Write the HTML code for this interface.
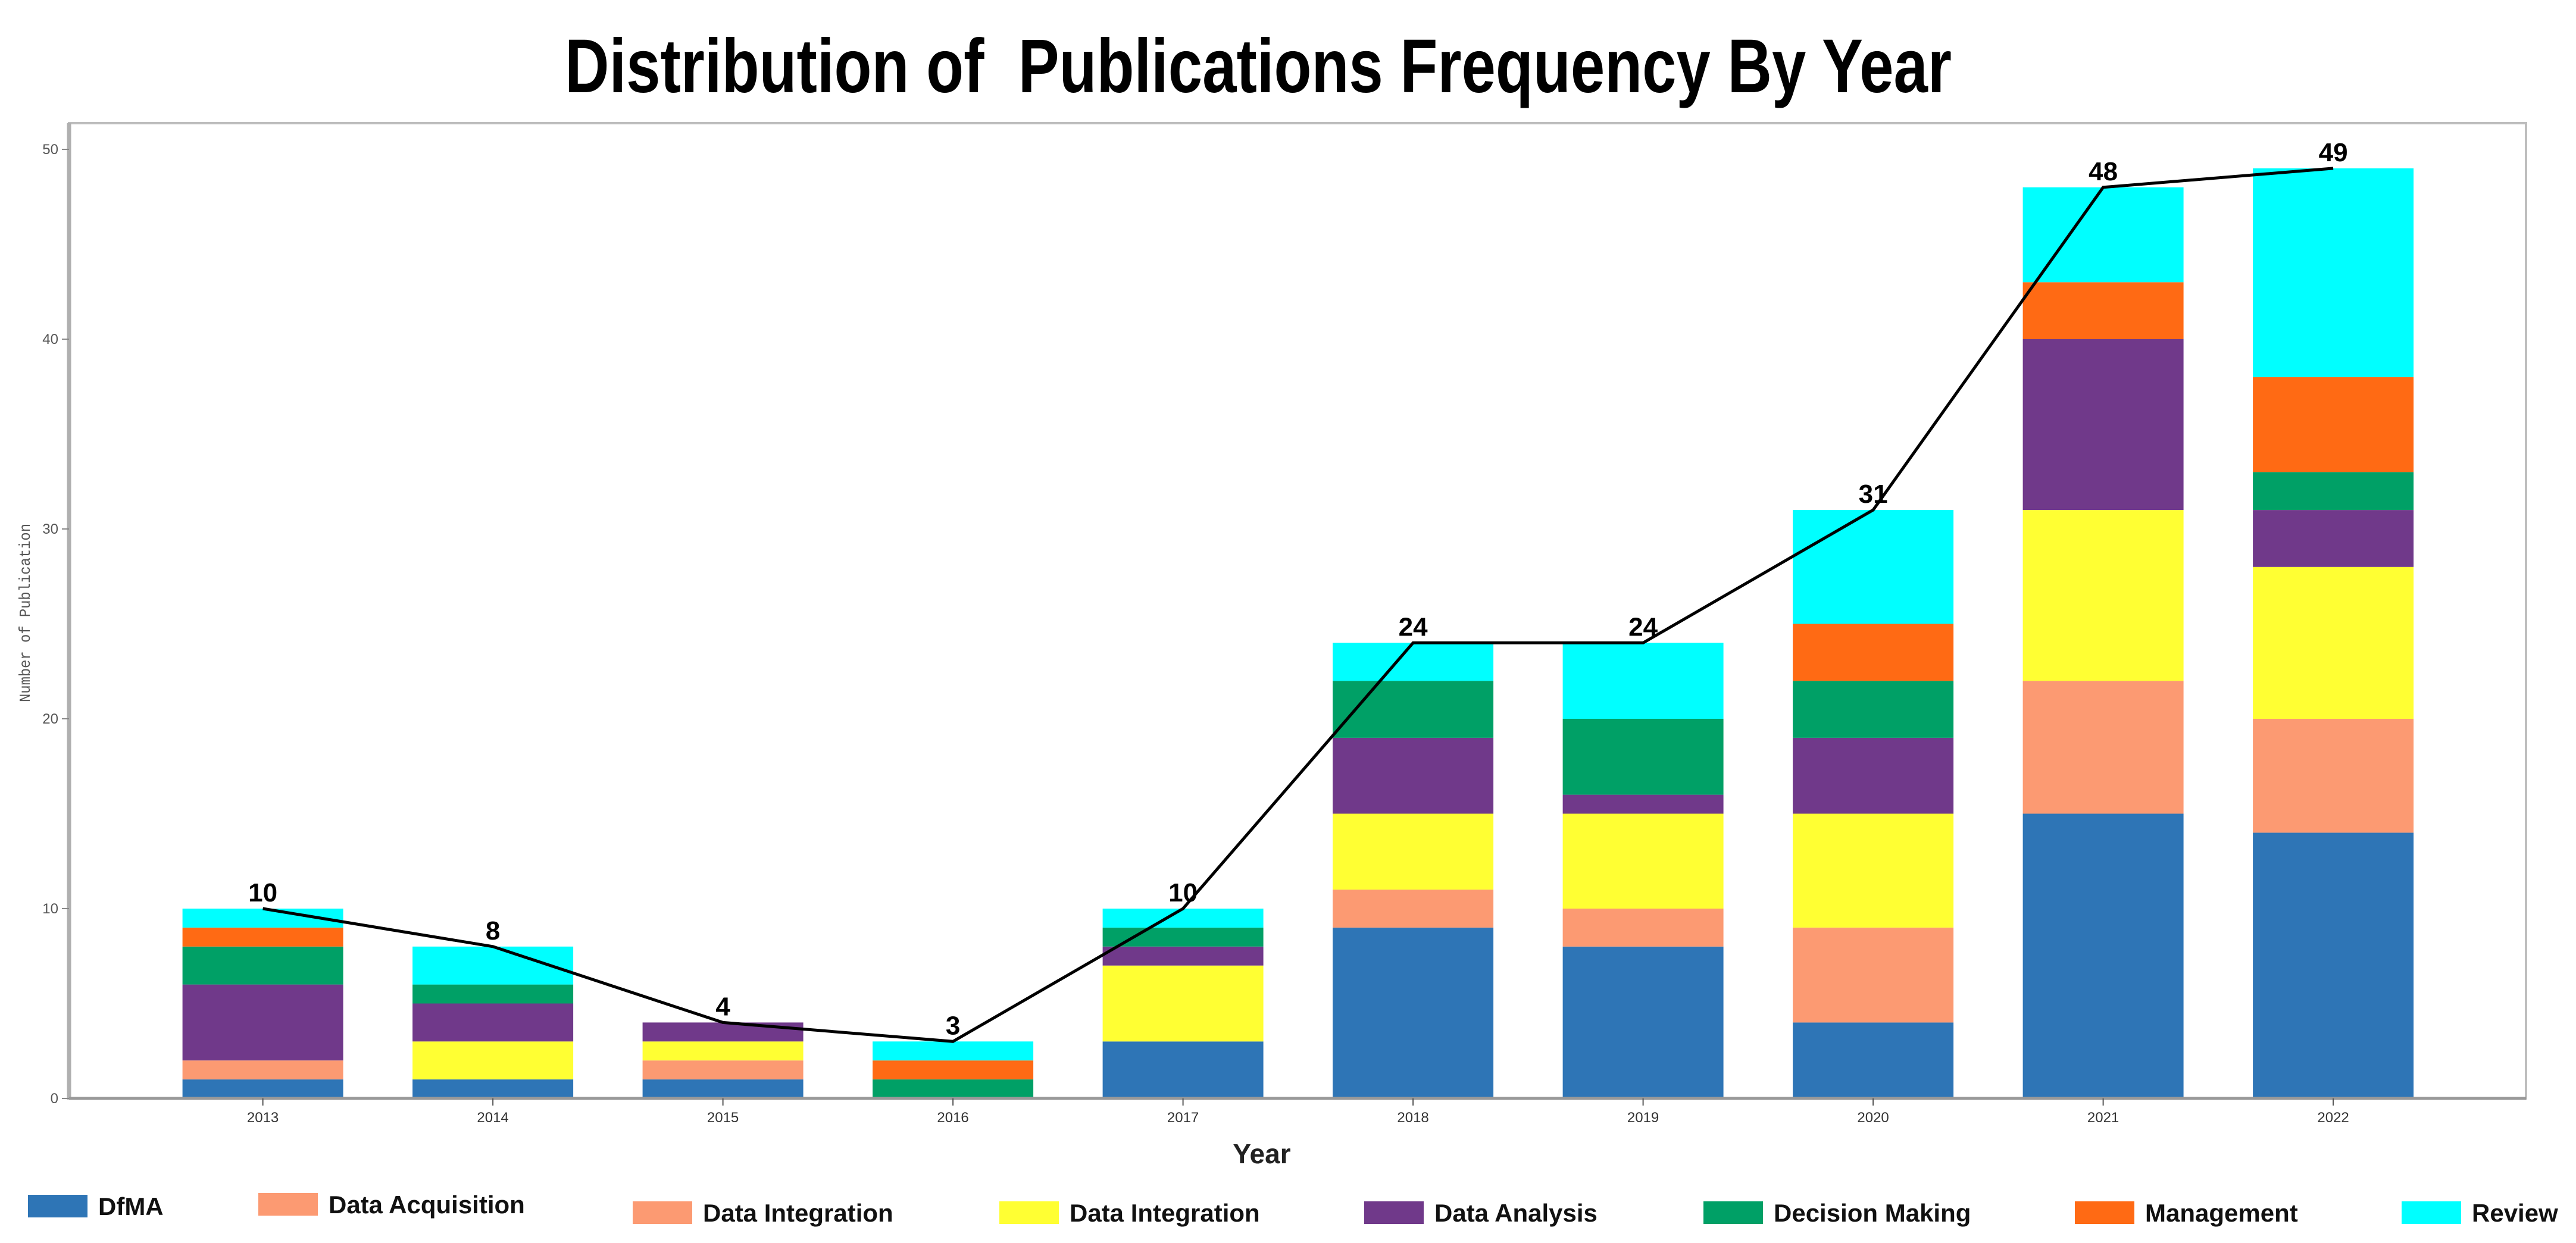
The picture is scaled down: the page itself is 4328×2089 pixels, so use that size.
<!DOCTYPE html>
<html><head><meta charset="utf-8">
<style>
html,body{margin:0;padding:0;background:#fff;}
svg{display:block;}
</style></head>
<body>
<svg id="chart" xmlns="http://www.w3.org/2000/svg" width="4328" height="2089" viewBox="0 0 4328 2089">
<rect x="0" y="0" width="4328" height="2089" fill="#fff"/>
<text x="2114" y="155" text-anchor="middle" font-family="Liberation Sans, sans-serif" font-weight="bold" font-size="128" textLength="2330" lengthAdjust="spacingAndGlyphs" fill="#000">Distribution of&#160; Publications Frequency By Year</text>
<rect x="116" y="207" width="4128" height="1639" fill="none" stroke="#bdbdbd" stroke-width="4"/>
<g id="bars"></g>
<g id="line"></g>
<g id="yaxis"></g>
<g id="xaxis"></g>
<text transform="translate(50,1030) rotate(-90)" text-anchor="middle" font-family="Liberation Mono, monospace" font-size="26" textLength="300" lengthAdjust="spacingAndGlyphs" fill="#555">Number of Publication</text>
<text x="2120" y="1955" text-anchor="middle" font-family="Liberation Sans, sans-serif" font-weight="bold" font-size="46" fill="#222">Year</text>
<g id="legend"></g>
</svg>
<script>
const years = ['2013','2014','2015','2016','2017','2018','2019','2020','2021','2022'];
const seriesNames = ['DfMA','Data Acquisition','Data Integration','Data Integration','Data Analysis','Decision Making','Management','Review'];
const seriesColors = ['#2e75b6','#fc9a72','#fc9a72','#ffff33','#70398a','#00a066','#ff6a14','#00ffff'];
const dfma = [1,1,1,0,3,9,8,4,15,14];
const dataAcq = [1,0,1,0,0,2,2,5,7,6];
const dataIntA = [0,0,0,0,0,0,0,0,0,0];
const dataIntB = [0,2,1,0,4,4,5,6,9,8];
const dataAnalysis = [4,2,1,0,1,4,1,4,9,3];
const decision = [2,1,0,1,1,3,4,3,0,2];
const management = [1,0,0,1,0,0,0,3,3,5];
const review = [1,2,0,1,1,2,4,6,5,11];
const totals = [10,8,4,3,10,24,24,31,48,49];
const yTicks = [0,10,20,30,40,50];
const series = [dfma,dataAcq,dataIntA,dataIntB,dataAnalysis,decision,management,review];

const NS='http://www.w3.org/2000/svg';
const x0=441.6, dx=386.5, bw=270;
const yBase=1846, yTop=251;
const xs=i=>x0+i*dx;
const ys=v=>yBase-(yBase-yTop)*v/50;
function mk(tag,attrs,parent){const e=document.createElementNS(NS,tag);for(const k in attrs)e.setAttribute(k,attrs[k]);parent.appendChild(e);return e;}

const gb=document.getElementById('bars');
years.forEach((yr,i)=>{
  let acc=0;
  series.forEach((s,k)=>{
    const v=s[i]; if(!v) return;
    const r=mk('rect',{x:xs(i)-bw/2,y:ys(acc+v),width:bw,height:ys(acc)-ys(acc+v),fill:seriesColors[k]},gb);
    
    
    acc+=v;
  });
});

const gl=document.getElementById('line');
const pl=mk('polyline',{points:totals.map((t,i)=>xs(i)+','+ys(t)).join(' '),fill:'none',stroke:'#000','stroke-width':5},gl);


totals.forEach((t,i)=>{
  const tx=mk('text',{x:xs(i),y:ys(t)-12,'text-anchor':'middle','font-family':'Liberation Sans, sans-serif','font-weight':'bold','font-size':44,fill:'#000'},gl);
  tx.textContent=t;
  
  
});

const gy=document.getElementById('yaxis');
const ax=mk('line',{x1:116,y1:207,x2:116,y2:1848,stroke:'#b0b0b0','stroke-width':7},gy);


yTicks.forEach(v=>{
  mk('line',{x1:104,y1:ys(v),x2:116,y2:ys(v),stroke:'#888','stroke-width':2},gy);
  const t=mk('text',{x:98,y:ys(v)+8,'text-anchor':'end','font-family':'Liberation Sans, sans-serif','font-size':24,fill:'#555'},gy);
  t.textContent=v;
  
  
});

const gx=document.getElementById('xaxis');
const bx=mk('line',{x1:116,y1:1846,x2:4244,y2:1846,stroke:'#999','stroke-width':5},gx);


years.forEach((yr,i)=>{
  mk('line',{x1:xs(i),y1:1846,x2:xs(i),y2:1858,stroke:'#555','stroke-width':2},gx);
  const t=mk('text',{x:xs(i),y:1886,'text-anchor':'middle','font-family':'Liberation Sans, sans-serif','font-size':24,fill:'#333'},gx);
  t.textContent=yr;
  
  
});

const lg=document.getElementById('legend');
const legX=[47,434,1063,1679,2292,2862,3486,4035];
const legY=[2027,2024,2038,2038,2038,2038,2038,2038];
seriesNames.forEach((n,k)=>{
  const g=mk('g',{},lg);
  
  
  mk('rect',{x:legX[k],y:legY[k]-19,width:100,height:38,fill:seriesColors[k]},g);
  const t=mk('text',{x:legX[k]+118,y:legY[k]+15,'font-family':'Liberation Sans, sans-serif','font-weight':'bold','font-size':42,fill:'#111'},g);
  t.textContent=n;
});
</script>
</body></html>
